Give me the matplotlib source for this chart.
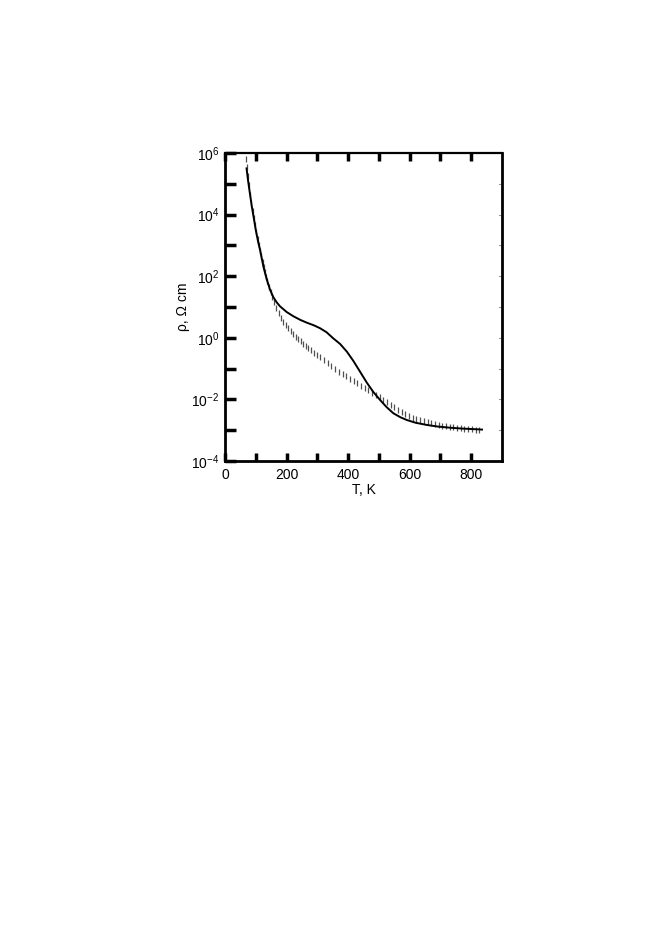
import numpy as np
import matplotlib
matplotlib.use("Agg")
import matplotlib.pyplot as plt

plt.rcParams['font.family'] = ['Liberation Sans', 'DejaVu Sans']
plt.rcParams['mathtext.fontset'] = 'custom'
plt.rcParams['mathtext.rm'] = 'Liberation Sans'
plt.rcParams['mathtext.it'] = 'Liberation Sans'

# Solid curve (T in K, log10 rho)
solid_T = [70, 75, 80, 87, 95, 100, 108, 114, 120, 125, 135, 146, 157, 168, 179, 200, 222, 245, 266, 290,
           309, 330, 352, 374, 396, 417, 440, 461, 482, 504, 525, 547, 570, 591, 620, 656, 690, 732, 775,
           818, 835]
solid_log = [5.5, 5.1, 4.75, 4.27, 3.8, 3.5, 3.1, 2.85, 2.55, 2.3, 1.92, 1.57, 1.32, 1.15, 1.02, 0.84, 0.70,
             0.58, 0.49, 0.40, 0.31, 0.18, -0.02, -0.2, -0.45, -0.75, -1.12, -1.46, -1.76, -2.02, -2.25,
             -2.45, -2.58, -2.67, -2.76, -2.83, -2.88, -2.92, -2.95, -2.97, -2.98]

# Dotted (marker) curve
dot_T = [67, 70, 74, 78, 82, 86, 90, 94, 98, 102, 106, 110, 114, 118, 122, 126, 130, 134, 138, 143,
         148, 154, 160, 167, 174, 182, 190, 198, 206, 214, 222, 230, 238, 246, 254, 262, 270, 280, 290,
         300, 310, 322, 334, 346, 358, 370, 382, 394, 406, 418, 430, 442, 454, 466, 478, 490, 502, 514,
         526, 538, 550, 562, 574, 586, 598, 610, 622, 634, 646, 658, 670, 682, 694, 706, 718, 730, 742,
         754, 766, 778, 790, 802, 814, 826]
dot_log = [5.8, 5.55, 5.25, 4.95, 4.65, 4.37, 4.12, 3.88, 3.65, 3.43, 3.22, 3.02, 2.83, 2.65, 2.47, 2.3,
           2.13, 1.98, 1.83, 1.66, 1.5, 1.33, 1.15, 0.96, 0.8, 0.64, 0.52, 0.41, 0.31, 0.21, 0.12, 0.04,
           -0.04, -0.12, -0.19, -0.26, -0.33, -0.41, -0.49, -0.57, -0.63, -0.72, -0.82, -0.91, -1.01,
           -1.10, -1.17, -1.25, -1.33, -1.40, -1.47, -1.55, -1.62, -1.70, -1.78, -1.85, -1.93, -2.01,
           -2.09, -2.17, -2.25, -2.33, -2.41, -2.48, -2.54, -2.59, -2.63, -2.67, -2.70, -2.74, -2.77,
           -2.80, -2.83, -2.85, -2.87, -2.89, -2.91, -2.92, -2.94, -2.95, -2.96, -2.97, -2.98, -2.99]

x_ticklabels = [0, 200, 400, 600, 800]
y_label_exps = [-4, -2, 0, 2, 4, 6]

fig = plt.figure(figsize=(6.65, 9.40), dpi=100)
ax = fig.add_axes([225/665, 1 - 461/940, 277/665, 308/940])

ax.plot(dot_T, 10**np.array(dot_log), linestyle='none', marker='|', markersize=4,
        markeredgewidth=0.9, color='#505050')
ax.plot(solid_T, 10**np.array(solid_log), color='black', lw=1.4)

ax.set_yscale('log')
ax.set_xlim(0, 900)
ax.set_ylim(1e-4, 1e6)

for s in ax.spines.values():
    s.set_linewidth(2.0)
ax.spines['top'].set_linewidth(1.6)

xt = list(range(0, 900, 100))
ax.set_xticks(xt)
ax.set_xticklabels([str(v) if v in x_ticklabels else '' for v in xt])
ax.tick_params(axis='x', which='major', direction='in', length=6, width=2.5, top=True, bottom=True,
               labelsize=10, pad=5)
ax.xaxis.set_minor_locator(matplotlib.ticker.NullLocator())

yt = [10.0**e for e in range(-4, 7)]
ax.set_yticks(yt)
ax.set_yticklabels([r'$10^{%d}$' % e if e in y_label_exps else '' for e in range(-4, 7)])
ax.yaxis.set_minor_locator(matplotlib.ticker.NullLocator())
ax.tick_params(axis='y', which='major', direction='in', length=8, width=2.5, labelsize=10,
               left=True, right=False, pad=4)

# faint small right ticks
for e in range(-3, 6):
    ax.plot([0.99, 1.0], [10.0**e]*2, transform=ax.get_yaxis_transform(), color='#999999', lw=0.8,
            clip_on=False)

ax.set_xlabel('T, K', fontsize=10, labelpad=1)
ax.set_ylabel('ρ, Ω cm', fontsize=10)
ax.yaxis.set_label_coords(-35/277, 0.5)

fig.savefig('out.png', dpi=100)
